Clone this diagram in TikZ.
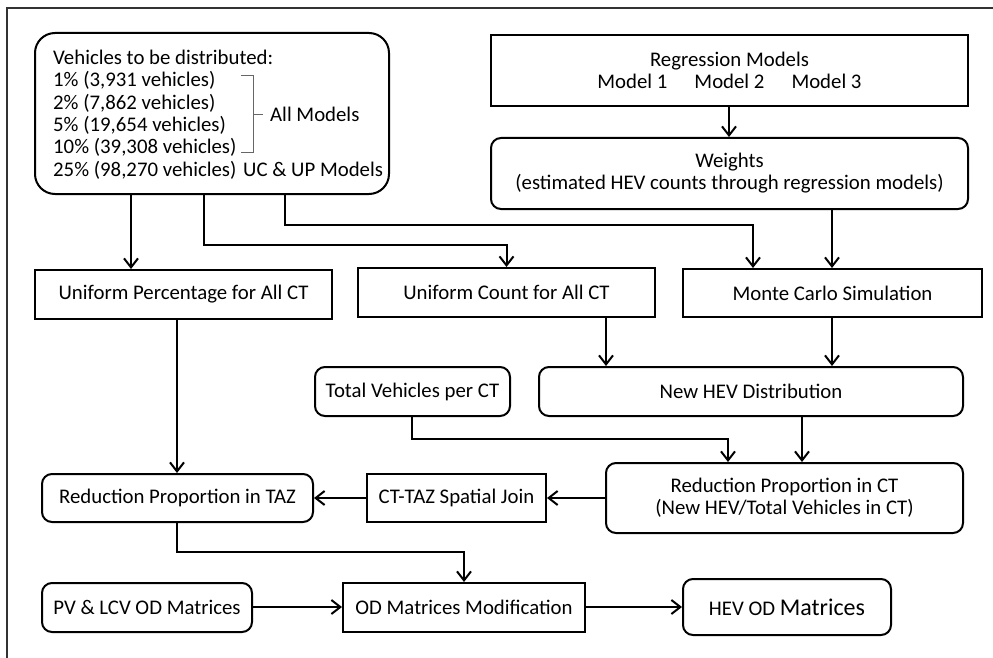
\documentclass[tikz,border=0pt]{standalone}
\usepackage{fontspec}
\setmainfont{Carlito}
\usetikzlibrary{arrows.meta}
\tikzset{
  sq/.style={draw, line width=2pt, rectangle, inner sep=0pt, align=center,
    font=\fontsize{20.8}{22}\selectfont},
  rd/.style={sq, rounded corners=10pt},
  arr/.style={line width=2pt, -{Straight Barb[length=9pt,width=14pt]}},
  txt/.style={anchor=base west, inner sep=0pt, font=\fontsize{20.8}{22}\selectfont},
  frame/.style={line width=1.6pt, draw=black!80},
  brace/.style={line width=1pt, draw=black!60}
}
\begin{document}
\begin{tikzpicture}[x=1pt,y=-1pt]
\useasboundingbox (0,0) rectangle (993,658);
% outer frame (partly cropped)
\draw[frame] (7,658) -- (7,8) -- (993,8);

% nodes
\node[sq, rounded corners=20pt, minimum width=354pt, minimum height=161pt] (veh) at (212,113.5) {};
\node[txt] (l0) at (53,65) {Vehicles to be distributed:};
\node[txt] (l1) at (53,87) {1\% (3,931 vehicles)};
\node[txt] (l2) at (53,109.3) {2\% (7,862 vehicles)};
\node[txt] (l3) at (53,131.6) {5\% (19,654 vehicles)};
\node[txt] (l4) at (53,153.9) {10\% (39,308 vehicles)};
\node[txt] (l5) at (53,176.2) {25\% (98,270 vehicles)};
\node[txt] (am) at (270,121.5) {All Models};
\node[txt] (ucup) at (243,176.2) {UC \& UP Models};
\draw[brace] (241,76) -- (253,76) -- (253,153) -- (241,153);
\draw[brace] (253,115) -- (263,115);

\node[sq, minimum width=477pt, minimum height=71pt] (reg) at (729.5,70.5)
  {Regression Models\\Model 1\hspace{27pt}Model 2\hspace{27pt}Model 3};
\node[rd, minimum width=477pt, minimum height=71pt] (wts) at (729.5,173.5)
  {Weights\\(estimated HEV counts through regression models)};
\node[sq, minimum width=297pt, minimum height=49pt] (up) at (183.5,294.5) {Uniform Percentage for All CT};
\node[sq, minimum width=297pt, minimum height=49pt] (uc) at (506.5,292.5) {Uniform Count for All CT};
\node[sq, minimum width=299pt, minimum height=48pt] (mc) at (832.5,293) {Monte Carlo Simulation};
\node[rd, minimum width=195pt, minimum height=49pt] (tv) at (412.5,391.5) {Total Vehicles per CT};
\node[rd, minimum width=424pt, minimum height=49pt] (nh) at (751,391.5) {New HEV Distribution};
\node[rd, minimum width=357pt, minimum height=70pt] (rct) at (784.5,498)
  {Reduction Proportion in CT\\(New HEV/Total Vehicles in CT)};
\node[sq, minimum width=179pt, minimum height=48pt] (join) at (456.5,498) {CT-TAZ Spatial Join};
\node[rd, minimum width=271pt, minimum height=48pt] (rtaz) at (177.5,498) {Reduction Proportion in TAZ};
\node[rd, minimum width=210pt, minimum height=49pt] (pv) at (147,607.5) {PV \& LCV OD Matrices};
\node[sq, minimum width=242pt, minimum height=49pt] (od) at (464,607.5) {OD Matrices Modification};
\node[rd, minimum width=208pt, minimum height=56pt] (hev) at (787,607)
  {HEV OD {\fontsize{24}{22}\selectfont Matrices}};

% helper coordinates
\coordinate (x131) at (131,0);
\coordinate (x177) at (177,0);
\coordinate (x729) at (729,0);
\coordinate (x412) at (412,0);
\coordinate (b1) at (204,245);
\coordinate (b2) at (285,225);
\coordinate (x753) at (753,0);
\coordinate (x832) at (832,0);
\coordinate (x606) at (606,0);
\coordinate (x802) at (802,0);
\coordinate (b3) at (728,439);
\coordinate (b4) at (464,552);
\coordinate (y607) at (0,607);

% connectors
\draw[arr] (x131 |- veh.south) -- (x131 |- up.north);
\draw[arr] (b1 |- veh.south) -- (b1) -| (uc.north);
\draw[arr] (b2 |- veh.south) -- (b2) -| (x753 |- mc.north);
\draw[arr] (x729 |- reg.south) -- (x729 |- wts.north);
\draw[arr] (x832 |- wts.south) -- (x832 |- mc.north);
\draw[arr] (x177 |- up.south) -- (x177 |- rtaz.north);
\draw[arr] (x606 |- uc.south) -- (x606 |- nh.north);
\draw[arr] (x832 |- mc.south) -- (x832 |- nh.north);
\draw[arr] (x412 |- tv.south) |- (b3) -- (b3 |- rct.north);
\draw[arr] (x802 |- nh.south) -- (x802 |- rct.north);
\draw[arr] (rct.west) -- (join.east);
\draw[arr] (join.west) -- (rtaz.east);
\draw[arr] (x177 |- rtaz.south) |- (b4) -- (od.north);
\draw[arr] (pv.east |- y607) -- (od.west |- y607);
\draw[arr] (od.east |- y607) -- (hev.west |- y607);
\end{tikzpicture}
\end{document}
